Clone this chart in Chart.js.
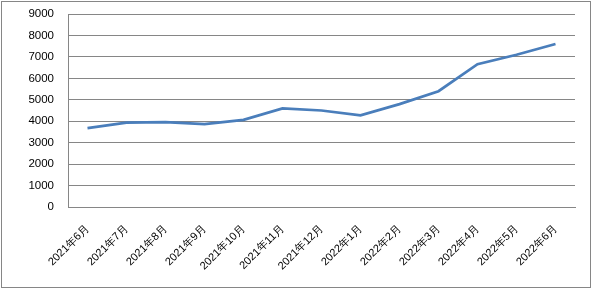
<!DOCTYPE html>
<html><head><meta charset="utf-8">
<script src="https://cdn.jsdelivr.net/npm/chart.js@4"></script>
<style>html,body{margin:0;padding:0;background:#fff;}#wrap{position:relative;width:593px;height:291px;}</style>
</head><body><div id="wrap"><canvas id="c" width="593" height="291"></canvas></div>
<script>
const categories = ["2021年6月","2021年7月","2021年8月","2021年9月","2021年10月","2021年11月","2021年12月","2022年1月","2022年2月","2022年3月","2022年4月","2022年5月","2022年6月"];
const values = [3680, 3930, 3960, 3870, 4060, 4600, 4500, 4270, 4800, 5400, 6660, 7100, 7600];
const yTicks = [0,1000,2000,3000,4000,5000,6000,7000,8000,9000];

const borderPlugin = {
  id: 'outerBorder',
  beforeDraw(chart) {
    const ctx = chart.ctx;
    ctx.save();
    ctx.fillStyle = '#fff';
    ctx.fillRect(0,0,chart.width,chart.height);
    ctx.strokeStyle = '#868686';
    ctx.lineWidth = 1;
    ctx.strokeRect(1.5, 1.5, 589, 286);
    ctx.restore();
  }
};

new Chart(document.getElementById('c'), {
  type: 'line',
  data: { labels: categories, datasets: [{ data: values, borderColor: '#4a7ebb', borderWidth: 2.75, pointRadius: 0, tension: 0, fill: false }] },
  options: {
    responsive: false, animation: false, devicePixelRatio: 1,
    layout: { padding: { top: 14, right: 18, left: 0, bottom: 0 } },
    plugins: { legend: { display: false }, tooltip: { enabled: false } },
    scales: {
      x: {
        offset: true,
        grid: { display: false, drawTicks: false, offset: true },
        border: { display: true, color: '#868686', width: 1 },
        ticks: { color: '#000', font: { family: 'Liberation Sans', size: 11 }, minRotation: 45, maxRotation: 45, autoSkip: false, padding: 15 },
        afterFit(s) { s.height = 84; s.paddingLeft = 0; s.paddingRight = 0; }
      },
      y: {
        min: 0, max: 9000,
        afterBuildTicks(s) { s.ticks = yTicks.map(v => ({ value: v })); },
        grid: { color: '#868686', lineWidth: 1, drawTicks: false },
        border: { display: true, color: '#868686', width: 1 },
        ticks: { color: '#000', font: { family: 'Liberation Sans', size: 11.5 }, padding: 14, callback: v => String(v) },
        afterFit(s) { s.width = 68; s.paddingTop = 0; s.paddingBottom = 0; }
      }
    }
  },
  plugins: [borderPlugin]
});
</script></body></html>
